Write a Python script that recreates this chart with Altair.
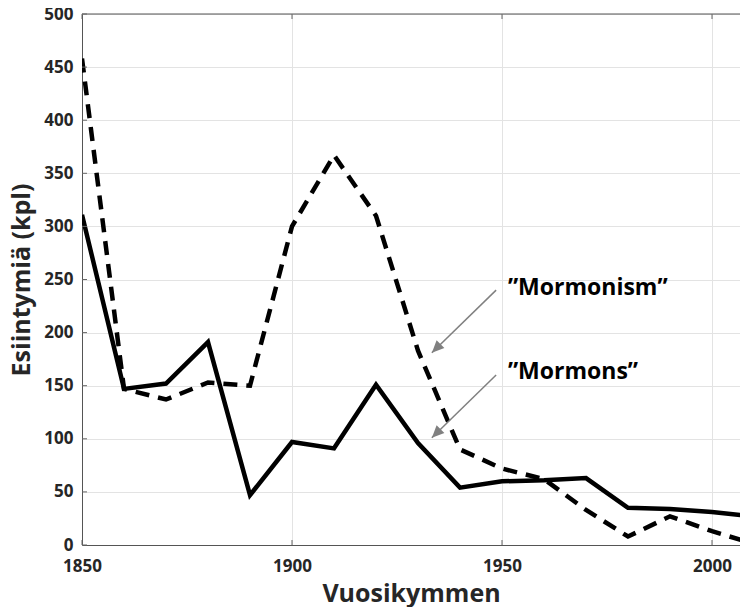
import altair as alt
import pandas as pd

years = [1850, 1860, 1870, 1880, 1890, 1900, 1910, 1920, 1930, 1940, 1950, 1960, 1970, 1980, 1990, 2000, 2010]
mormons = [311, 147, 152, 191, 47, 97, 91, 151, 96, 54, 60, 61, 63, 35, 34, 31, 27]
mormonism = [458, 147, 137, 153, 150, 300, 367, 310, 183, 90, 72, 62, 33, 8, 27, 13, 1]

x_ticks = [1850, 1900, 1950, 2000]
y_ticks = [0, 50, 100, 150, 200, 250, 300, 350, 400, 450, 500]

labels = ["\u201dMormonism\u201d", "\u201dMormons\u201d"]
label_x = [1951.4, 1951.4]
label_y = [242, 163]
arrow_x0 = [1948.6, 1948.6]
arrow_y0 = [240, 160]
arrow_x1 = [1933.3, 1933.3]
arrow_y1 = [181, 101]

W, H = 658, 531
X_DOMAIN = [1850, 1850 + W / 4.2]
Y_DOMAIN = [0, 500]

df = pd.DataFrame({"year": years, "mormons": mormons, "mormonism": mormonism})
ann = pd.DataFrame({"label": labels, "lx": label_x, "ly": label_y,
                    "x0": arrow_x0, "y0": arrow_y0, "x1": arrow_x1, "y1": arrow_y1})
xt = pd.DataFrame({"t": x_ticks})
yt = pd.DataFrame({"t": y_ticks})

xs = alt.Scale(domain=X_DOMAIN, nice=False, zero=False)
ys = alt.Scale(domain=Y_DOMAIN, nice=False)

x_axis = alt.Axis(values=x_ticks, format="d", title="Vuosikymmen", grid=True, ticks=False,
                  labelPadding=13, titleY=48, titleBaseline="middle", labelFlush=False)
y_axis = alt.Axis(values=y_ticks, title="Esiintymiä (kpl)", grid=True, ticks=False,
                  labelPadding=9, titleX=-53, titleBaseline="alphabetic", titleAngle=-90)

solid = alt.Chart(df).mark_line(color="black", strokeWidth=4.5, clip=True, strokeJoin="miter").encode(
    x=alt.X("year:Q", scale=xs, axis=x_axis),
    y=alt.Y("mormons:Q", scale=ys, axis=y_axis),
)
dashed = alt.Chart(df).mark_line(color="black", strokeWidth=4.5, strokeDash=[14, 9], clip=True).encode(
    x=alt.X("year:Q", scale=xs),
    y=alt.Y("mormonism:Q", scale=ys),
)
top_border = alt.Chart(pd.DataFrame({"v": [Y_DOMAIN[1]]})).mark_rule(color="#555555", strokeWidth=1).encode(
    y=alt.Y("v:Q", scale=ys)
)
ytick_marks = alt.Chart(yt).mark_rule(color="#666666", strokeWidth=1).encode(
    y=alt.Y("t:Q", scale=ys), x=alt.value(0), x2=alt.value(5)
)
xtick_bottom = alt.Chart(xt).mark_rule(color="#666666", strokeWidth=1).encode(
    x=alt.X("t:Q", scale=xs), y=alt.value(H), y2=alt.value(H - 5)
)
xtick_top = alt.Chart(xt).mark_rule(color="#666666", strokeWidth=1).encode(
    x=alt.X("t:Q", scale=xs), y=alt.value(0), y2=alt.value(5)
)
arrows = alt.Chart(ann).mark_rule(color="#808080", strokeWidth=1.5).encode(
    x=alt.X("x0:Q", scale=xs), y=alt.Y("y0:Q", scale=ys),
    x2="x1:Q", y2="y1:Q",
)
heads = alt.Chart(ann).mark_point(shape="M0,0L-0.45,1L0.45,1Z", filled=True, color="#808080",
                                  opacity=1, size=600, angle=225).encode(
    x=alt.X("x1:Q", scale=xs), y=alt.Y("y1:Q", scale=ys),
)
texts = alt.Chart(ann).mark_text(align="left", baseline="middle", font="Open Sans", fontWeight="bold",
                                 fontSize=23, color="black").encode(
    x=alt.X("lx:Q", scale=xs), y=alt.Y("ly:Q", scale=ys), text="label:N"
)

chart = alt.layer(solid, dashed, top_border, ytick_marks, xtick_bottom, xtick_top,
                  arrows, heads, texts).properties(
    width=W, height=H,
    autosize=alt.AutoSizeParams(type="none"),
    padding={"left": 74, "top": 6, "right": 0, "bottom": 62},
).configure_view(stroke=None).configure_axis(
    labelFont="Open Sans", labelFontWeight="bold", labelFontSize=17, labelColor="#262626",
    titleFont="Open Sans", titleFontWeight="bold", titleFontSize=25, titleColor="#262626",
    domainColor="#555555", domainWidth=1, gridColor="#e3e3e3", gridWidth=1,
).configure_axisY(labelBaseline="middle")

chart.save("out.html", embed_options={"renderer": "svg", "actions": False})
